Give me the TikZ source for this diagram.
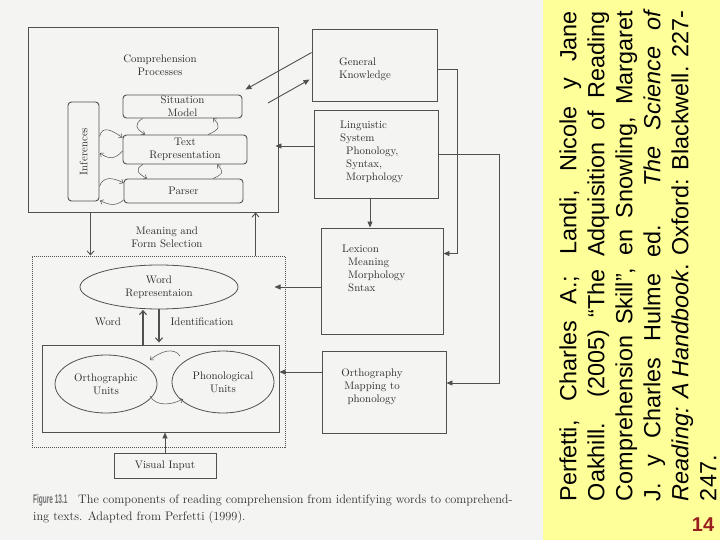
\documentclass[tikz,border=0pt]{standalone}
\usepackage{fontspec}
\usepackage{graphicx}
\newfontfamily\arialf{Liberation Sans}
\usetikzlibrary{arrows.meta,calc,shapes.geometric}
\definecolor{ln}{HTML}{505050}
\definecolor{tx}{HTML}{2E2E2E}
\definecolor{band}{HTML}{FFFF99}
\definecolor{scan}{HTML}{F4F4F3}
\definecolor{pgnum}{HTML}{9A1F1F}
\definecolor{figgray}{HTML}{6E6E6E}
\tolerance=10000
\hbadness=10000
\hyphenpenalty=10000
\begin{document}
\begin{tikzpicture}[x=1pt,y=-1pt,
  lbl/.style={font=\fontsize{10.9}{13}\selectfont, text=tx, inner sep=0pt},
  sqbox/.style={draw=ln, line width=0.9pt, inner sep=0pt},
  rbox/.style={sqbox, rounded corners=3.5pt, lbl, align=center},
  ebox/.style={draw=ln, line width=0.8pt, ellipse, inner sep=0pt, lbl, align=center},
  conn/.style={draw=ln, line width=0.9pt},
  tri/.style={conn, -{Triangle[length=6pt,width=5pt]}},
  barb/.style={conn, -{Straight Barb[length=4pt,width=7pt]}},
  curv/.style={draw=ln, line width=0.5pt, -{Straight Barb[length=3pt,width=5pt]}},
  dotbox/.style={draw=ln, densely dotted, line width=1pt, inner sep=0pt}
]
\fill[scan] (0,0) rectangle (543,540);
\fill[band] (543,0) rectangle (720,540);
\useasboundingbox (0,0) rectangle (720,540);

% --- comprehension block
\node[sqbox, minimum width=250pt, minimum height=185pt] (comp) at (153,119.5) {};
\node[lbl, align=center] (comptitle) at (160,65.5) {Comprehension\\Processes};
\node[rbox, minimum width=119pt, minimum height=23pt] (sit) at (182.5,106.5) {Situation\\Model};
\node[rbox, minimum width=124pt, minimum height=29pt] (txt) at (185,149.5) {Text\\Representation};
\node[rbox, minimum width=119pt, minimum height=24pt] (parser) at (183.5,191) {Parser};
\node[rbox, rotate=90, minimum width=99pt, minimum height=31pt] (inf) at (83.5,151.5) {Inferences};

% --- right column
\node[sqbox, minimum width=125pt, minimum height=72pt] (gk) at (374.5,65) {};
\node[lbl, align=left, anchor=west] (gkt) at (339,69) {General\\Knowledge};
\node[sqbox, minimum width=124pt, minimum height=88pt] (ling) at (376,154) {};
\node[lbl, align=left, anchor=west] (lingt) at (340,152) {Linguistic\\System\\\hspace*{6pt}Phonology,\\\hspace*{6pt}Syntax,\\\hspace*{6pt}Morphology};
\node[sqbox, minimum width=122pt, minimum height=106pt] (lex) at (382,281) {};
\node[lbl, align=left, anchor=west] (lext) at (342,268.5) {Lexicon\\\hspace*{6pt}Meaning\\\hspace*{6pt}Morphology\\\hspace*{6pt}Sntax};
\node[sqbox, minimum width=124pt, minimum height=82pt] (orth) at (384,392) {};
\node[lbl, align=center] (ortht) at (372,387) {Orthography\\Mapping to\\phonology};

% --- middle label
\node[lbl, align=center] (msel) at (167,237) {Meaning and\\Form Selection};

% --- word level block
\node[dotbox, minimum width=253pt, minimum height=191pt] (dot) at (158.5,351.5) {};
\node[ebox, minimum width=158pt, minimum height=44pt] (word) at (159,287) {Word\\Representaion};
\node[lbl] (wl) at (108,322) {Word};
\node[lbl] (idl) at (202,322) {Identification};
\node[sqbox, minimum width=237pt, minimum height=87pt] (inner) at (160.5,388.5) {};
\node[ebox, minimum width=102pt, minimum height=58pt] (orthu) at (106,384) {Orthographic\\Units};
\node[ebox, minimum width=102pt, minimum height=62pt] (phon) at (223,382) {Phonological\\Units};
\node[sqbox, lbl, minimum width=102pt, minimum height=25pt] (vis) at (165,465.5) {Visual Input};

% --- caption
\node[anchor=base west, inner sep=0pt, text=figgray] (figno) at (33,503) {\scalebox{0.52}[1]{\arialf\bfseries\fontsize{12.5}{14}\selectfont Figure 13.1}};
\node[anchor=base west, inner sep=0pt, text=tx, font=\fontsize{12.3}{15}\selectfont] (cap1) at (78,503) {The components of reading comprehension from identifying words to comprehend-};
\node[anchor=base west, inner sep=0pt, text=tx, font=\fontsize{12.3}{15}\selectfont] (cap2) at (33,520) {ing texts. Adapted from Perfetti (1999).};

% --- connectors
\draw[tri] ($(gk.north west)+(0,24)$) -- ($(sit.north east)+(3,-5)$);
\coordinate (gkfree) at (268,103);
\draw[tri] (gkfree) -- ($(gk.north west)+(-2,51)$);
\draw[tri] ($(ling.west)+(0,-8)$) -- ($(comp.east)+(-3,26.5)$);
\draw[tri] ($(ling.south)+(-6,0)$) -- ($(lex.north)+(-12,0)$);
\draw[tri] ($(gk.east)+(0,4)$) -- ++(20,0) |- ($(lex.north east)+(0,26)$);
\draw[tri] (ling.east) -- ++(61,0) |- ($(orth.east)+(0,-9)$);
\draw[tri] ($(lex.west)+(0,6)$) -- ($(dot.east)+(-11,-64.5)$);
\draw[tri] ($(orth.west)+(0,-20)$) -- ($(inner.east)+(0,-16.5)$);
\draw[tri] (vis.north) -- (vis.north |- inner.south);

\coordinate (dn1) at ($(comp.south west)+(63,0)$);
\draw[barb] (dn1) -- (dn1 |- dot.north);
\coordinate (up1) at ($(comp.south west)+(228,0)$);
\draw[barb] (up1 |- dot.north) -- (up1);

\coordinate (wu) at ($(inner.north)+(-17.5,0)$);
\draw[barb, line width=1.1pt] (wu) -- ($(word.south)+(-16,0.5)$);
\coordinate (wd) at (word.south |- inner.north);
\draw[barb, line width=1.1pt] (word.south) -- ($(wd)+(0,-2)$);

% --- small curved arrows
\draw[curv] ($(sit.south)+(-40,0)$) .. controls +(-9,6) and +(-9,-6) .. ($(txt.north)+(-40,0)$);
\draw[curv] ($(txt.north)+(23,0)$) .. controls +(12,-5) and +(8,7) .. ($(sit.south)+(30.5,0)$);
\draw[curv] ($(txt.south)+(-42,0)$) .. controls +(-9,5) and +(-9,-5) .. ($(parser.north)+(-36.5,0)$);
\draw[curv] ($(parser.north)+(29.5,0)$) .. controls +(12,-5) and +(6,6) .. ($(txt.south)+(32,0)$);
\draw[curv] ($(inf.center)+(16,-15)$) .. controls +(3,-11) and +(-12,-8) .. ($(txt.west)+(0,-12)$);
\draw[curv] ($(txt.west)+(0,1.5)$) .. controls +(-8,9) and +(8,6) .. ($(inf.center)+(16.5,1.5)$);
\draw[curv] ($(inf.center)+(16,35)$) .. controls +(3,-10) and +(-11,-6) .. ($(parser.west)+(0,-8)$);
\draw[curv] ($(parser.west)+(0,9)$) .. controls +(-8,7) and +(8,4) .. ($(inf.center)+(16.5,49)$);
\draw[curv] ($(phon.center)+(-43,-26)$) .. controls +(-6,-9) and +(11,-9) .. ($(orthu.center)+(44,-24)$);
\draw[curv] ($(orthu.center)+(44,12)$) .. controls +(6,11) and +(-11,6) .. ($(phon.center)+(-40,17)$);

% --- reference text and page number
\node[rotate=90, inner sep=0pt, text width=490pt, align=justify, font=\arialf\fontsize{23.4}{28}\selectfont, text=black] (ref) at (638,256) {Perfetti, Charles A.; Landi, Nicole y Jane\linebreak Oakhill. (2005) “The Adquisition of Reading\linebreak Comprehension Skill”, en Snowling, Margaret\linebreak J. y Charles Hulme ed. \textit{The Science of\linebreak Reading: A Handbook}. Oxford: Blackwell. 227-\linebreak 247.};
\node[font=\arialf\bfseries\fontsize{20}{24}\selectfont, text=pgnum, inner sep=0pt] (pg) at (703,525) {14};
\end{tikzpicture}
\end{document}
